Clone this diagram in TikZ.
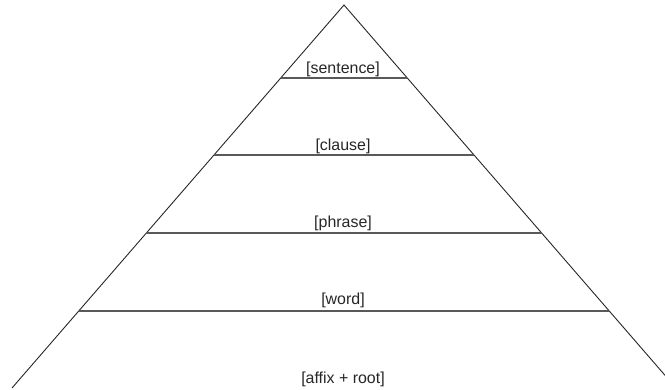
\documentclass[tikz,border=0pt]{standalone}
\usepackage{fontspec}
\setmainfont{Liberation Sans}
\begin{document}
\begin{tikzpicture}[x=1bp,y=-1bp,
  side/.style={draw=black!85, line width=0.9bp},
  level/.style={draw=black!65, line width=1.3bp},
  lab/.style={font=\fontsize{16}{18}\selectfont, text=black!85, inner sep=0pt, anchor=base}]
\useasboundingbox (0,0) rectangle (665,389);
\clip (0,0) rectangle (665,389);
\coordinate (apex) at (344,5);
\coordinate (bl) at (12,388);
\coordinate (br) at (676,388);
\draw[side] (bl) -- (apex) -- (br);
\foreach \y/\n in {78/a,155/b,233/c,311/d}{
  \pgfmathsetmacro{\dx}{0.866841*(\y-5)}
  \coordinate (l\n) at ({344-\dx},\y);
  \coordinate (r\n) at ({344+\dx},\y);
  \draw[level] (l\n) -- (r\n);
}
\node[lab] (sentence) at (343,73) {[sentence]};
\node[lab] (clause) at (343,150) {[clause]};
\node[lab] (phrase) at (343,227) {[phrase]};
\node[lab] (word) at (343,304) {[word]};
\node[lab] (affix) at (343,383) {[affix + root]};
\end{tikzpicture}
\end{document}
